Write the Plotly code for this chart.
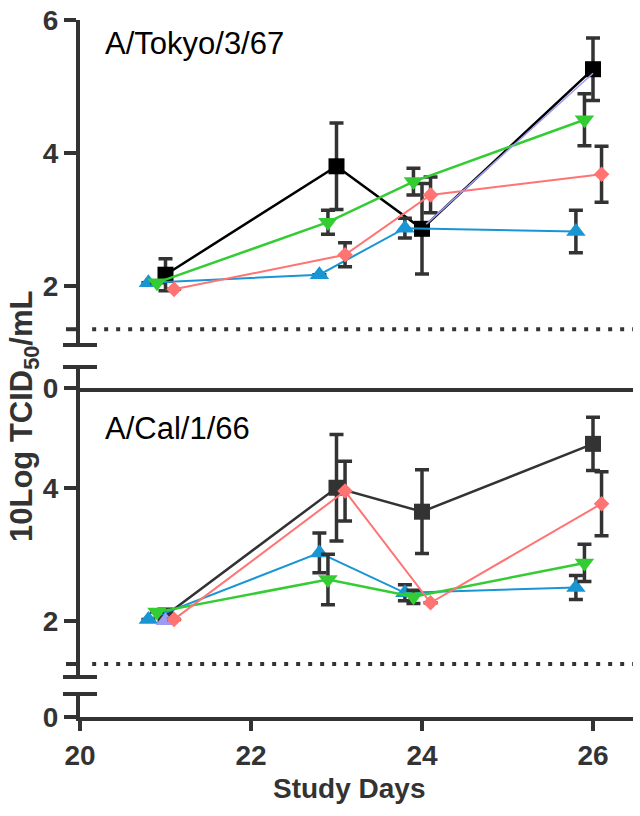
import plotly.graph_objects as go

# ---------------- data ----------------
LOD = 1.35  # limit of detection (dotted line)

black_days = [21.0, 23.0, 24.0, 26.0]
green_days = [20.9, 22.9, 23.9, 25.9]
red_days = [21.1, 23.1, 24.1, 26.1]
blue_days = [20.8, 22.8, 23.8, 25.8]

# A/Tokyo/3/67
tokyo_black = [2.17, 3.80, 2.86, 5.26]
tokyo_black_err = [0.24, 0.65, 0.68, 0.47]
tokyo_green = [2.05, 2.96, 3.57, 4.50]
tokyo_green_err = [None, 0.18, 0.20, 0.39]
tokyo_red = [1.95, 2.47, 3.37, 3.68]
tokyo_red_err = [None, 0.18, 0.27, 0.42]
tokyo_blue = [2.05, 2.17, 2.87, 2.82]
tokyo_blue_err = [None, None, 0.15, 0.32]
tokyo_purple_days = [24.05, 26.0]
tokyo_purple = [2.93, 5.20]

# A/Cal/1/66
cal_black = [2.08, 4.00, 3.64, 4.66]
cal_black_err = [None, 0.80, 0.63, 0.40]
cal_red = [2.02, 3.95, 2.27, 3.76]
cal_red_err = [None, 0.45, None, 0.48]
cal_blue = [2.02, 3.02, 2.42, 2.50]
cal_blue_err = [None, 0.30, 0.12, 0.18]
cal_green = [2.13, 2.62, 2.36, 2.87]
cal_green_err = [None, 0.38, 0.10, 0.28]
cal_purple_days = [21.0]
cal_purple = [2.00]

x_ticks = [20, 22, 24, 26]
upper_ticks_top = [2, 4, 6]
upper_ticks_bottom = [2, 4]
panel_titles = ["A/Tokyo/3/67", "A/Cal/1/66"]

# ---------------- layout helpers ----------------
W, H = 640, 816
def px(p):
    return p / W
def py(p):
    return 1 - p / H

AX = '#333333'
GREEN = '#33CC33'
RED = '#FF7373'
BLUE = '#1896D4'
PURPLE = '#9C9CF2'

fig = go.Figure()

def add_series(x, y, err, color, symbol, size, lw, xa, ya):
    fig.add_trace(go.Scatter(
        x=x, y=y, mode='lines+markers', xaxis=xa, yaxis=ya,
        line=dict(color=color, width=lw),
        marker=dict(symbol=symbol, size=size, color=color, line=dict(width=0)),
        error_y=dict(type='data', array=err, visible=True,
                     color=AX, thickness=3.5, width=7),
        showlegend=False, cliponaxis=False))

# placeholder traces so the lower (0) axis segments exist as subplots
for xa, ya in [('x', 'y2'), ('x2', 'y4')]:
    fig.add_trace(go.Scatter(x=[None], y=[None], xaxis=xa, yaxis=ya, mode='markers',
                             showlegend=False, hoverinfo='skip'))

TRI = 17
# top panel
add_series(black_days, tokyo_black, tokyo_black_err, '#000000', 'square', 16, 2.5, 'x', 'y')
add_series(blue_days, tokyo_blue, tokyo_blue_err, BLUE, 'triangle-up', TRI, 2, 'x', 'y')
add_series(red_days, tokyo_red, tokyo_red_err, RED, 'diamond', 12, 2, 'x', 'y')
add_series(green_days, tokyo_green, tokyo_green_err, GREEN, 'triangle-down', TRI, 2.5, 'x', 'y')
fig.add_trace(go.Scatter(x=tokyo_purple_days, y=tokyo_purple, mode='lines', xaxis='x', yaxis='y',
                         line=dict(color=PURPLE, width=1.5), showlegend=False))

# bottom panel
add_series(black_days, cal_black, cal_black_err, AX, 'square', 16, 2.5, 'x2', 'y3')
add_series(blue_days, cal_blue, cal_blue_err, BLUE, 'triangle-up', TRI, 2, 'x2', 'y3')
add_series(green_days, cal_green, cal_green_err, GREEN, 'triangle-down', TRI, 2.5, 'x2', 'y3')
fig.add_trace(go.Scatter(x=cal_purple_days, y=cal_purple, mode='markers', xaxis='x2', yaxis='y3',
                         marker=dict(symbol='triangle-up', size=TRI, color=PURPLE),
                         showlegend=False, cliponaxis=False))
add_series(red_days, cal_red, cal_red_err, RED, 'diamond', 12, 2, 'x2', 'y3')

tickfont = dict(family='Liberation Sans, Arial', size=28, color=AX, weight='bold')
xdom = [px(80), px(633)]
xr = [20, 20 + 553 / 85.5]

common_y = dict(showline=True, linecolor=AX, linewidth=4, ticks='outside', ticklen=12,
                tickwidth=4, tickcolor=AX, showgrid=False, zeroline=False, tickfont=tickfont,
                automargin=False, ticklabeloverflow='allow')

fig.update_layout(
    width=W, height=H, margin=dict(l=0, r=0, t=0, b=0),
    paper_bgcolor='white', plot_bgcolor='white',
    xaxis=dict(domain=xdom, range=xr, anchor='y2', showline=True, linecolor=AX, linewidth=4,
               ticks='', showticklabels=False, showgrid=False, zeroline=False, automargin=False),
    xaxis2=dict(domain=xdom, range=xr, anchor='y4', showline=True, linecolor=AX, linewidth=4,
                ticks='outside', ticklen=10, tickwidth=4, tickcolor=AX, tickvals=x_ticks,
                tickfont=tickfont, showgrid=False, zeroline=False, automargin=False,
                ticklabeloverflow='allow'),
    yaxis=dict(domain=[py(345), py(20)], range=[6 - 325 / 66.5, 6], anchor='x',
               tickvals=upper_ticks_top, **common_y),
    yaxis2=dict(domain=[py(388), py(367)], range=[0, 21 / 66.5], anchor='x',
                tickvals=[0], **common_y),
    yaxis3=dict(domain=[py(677), py(388)], range=[5.5 - 289 / 66.5, 5.5], anchor='x2',
                tickvals=upper_ticks_bottom, **common_y),
    yaxis4=dict(domain=[py(717), py(694)], range=[0, 23 / 66.5], anchor='x2',
                tickvals=[0], **common_y),
)

# axis break marks, LOD ticks and detection-limit lines
shapes = []
for yref, yv in [('y domain', 0), ('y2 domain', 1), ('y3 domain', 0), ('y4 domain', 1)]:
    shapes.append(dict(type='line', xref='paper', yref=yref, x0=px(63), x1=px(97), y0=yv, y1=yv,
                       line=dict(color=AX, width=4)))
for yref in ['y', 'y3']:
    shapes.append(dict(type='line', xref='paper', yref=yref, x0=px(66), x1=px(79), y0=LOD, y1=LOD,
                       line=dict(color=AX, width=4)))
for yref, xref in [('y', 'x domain'), ('y3', 'x2 domain')]:
    shapes.append(dict(type='line', xref=xref, yref=yref, x0=0.022, x1=1, y0=LOD, y1=LOD,
                       line=dict(color=AX, width=4, dash='4px,8px')))
fig.update_layout(shapes=shapes)

annfont = dict(family='Liberation Sans, Arial', size=31, color='#000000')
fig.add_annotation(text=panel_titles[0], xref='paper', yref='paper', x=px(103), y=py(43),
                   xanchor='left', yanchor='middle', showarrow=False, font=annfont)
fig.add_annotation(text=panel_titles[1], xref='paper', yref='paper', x=px(103), y=py(428),
                   xanchor='left', yanchor='middle', showarrow=False, font=annfont)
fig.add_annotation(text='Study Days', xref='paper', yref='paper', x=px(349), y=py(788),
                   xanchor='center', yanchor='middle', showarrow=False,
                   font=dict(family='Liberation Sans, Arial', size=28, color=AX, weight='bold'))
fig.add_annotation(text='10Log TCID<sub>50</sub>/mL', xref='paper', yref='paper', x=px(24), y=py(417),
                   xanchor='center', yanchor='middle', showarrow=False, textangle=-90,
                   font=dict(family='Liberation Sans, Arial', size=31, color=AX, weight='bold'))

fig.write_html('out.html', config={'displayModeBar': False},
               post_script="document.body.style.margin='0';")
